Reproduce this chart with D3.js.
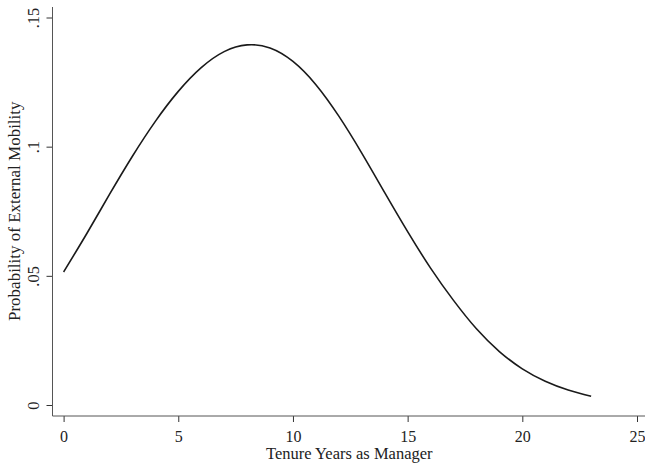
<!DOCTYPE html>
<html>
<head>
<meta charset="utf-8">
<script src="https://cdn.jsdelivr.net/npm/d3@7"></script>
<style>
    body { margin: 0; background: #fff; }
    text { font-family: "Liberation Serif", "Times New Roman", serif; fill: #222; }
</style>
</head>
<body>
<div id="chart"></div>
<script>
// tenure years and predicted probability
let tenureYears = [0, 1, 2, 3, 4, 5, 6, 7, 8, 9, 10, 11, 12, 13, 14, 15, 16, 17, 18, 19, 20, 21, 22, 23];
let probValues = [0.0515, 0.0662, 0.0815, 0.0963, 0.1098, 0.1214, 0.1306, 0.1368, 0.1394, 0.1382, 0.1330, 0.1240,
    0.1118, 0.0975, 0.0822, 0.0671, 0.0530, 0.0405, 0.0295, 0.0207, 0.0140, 0.0092, 0.0058, 0.0034];
let xTicks = [0, 5, 10, 15, 20, 25];
let yTicks = [0, 0.05, 0.1, 0.15];
let yTickLabels = ["0", ".05", ".1", ".15"];

let width = 645, height = 463;

let svg = d3.select("#chart").append("svg")
    .attr("width", width)
    .attr("height", height);

// scales
let x = d3.scaleLinear().domain([0, 25]).range([63.6, 637]);
let y = d3.scaleLinear().domain([0, 0.15]).range([405, 17.5]);

let axisX = 52.5, axisY = 416;

// axes
let xAxis = d3.axisBottom(x).tickValues(xTicks).tickSize(6).tickSizeOuter(0);
let yAxis = d3.axisLeft(y).tickValues(yTicks).tickSize(6).tickSizeOuter(0)
    .tickFormat((d, i) => yTickLabels[i]);

let gx = svg.append("g")
    .attr("transform", "translate(0," + axisY + ")")
    .call(xAxis);
gx.select(".domain").remove();
gx.append("line")
    .attr("x1", axisX).attr("x2", width)
    .attr("stroke", "#555");
gx.selectAll(".tick line").attr("stroke", "#333");
gx.selectAll(".tick text")
    .attr("font-size", "16px")
    .attr("fill", "#222")
    .attr("y", 0)
    .attr("dy", null)
    .attr("transform", "translate(0,25.5)");

let gy = svg.append("g")
    .attr("transform", "translate(" + axisX + ",0)")
    .call(yAxis);
gy.select(".domain").remove();
gy.append("line")
    .attr("y1", 7).attr("y2", axisY)
    .attr("stroke", "#555");
gy.selectAll(".tick line").attr("stroke", "#333");
gy.selectAll(".tick text")
    .attr("font-size", "16.5px")
    .attr("fill", "#222")
    .attr("x", 0)
    .attr("dy", null)
    .attr("text-anchor", "middle")
    .attr("transform", "translate(-13.5,0) rotate(-90)");

// axis titles
svg.append("text")
    .attr("x", (x(0) + x(25)) / 2 - 1)
    .attr("y", 459)
    .attr("text-anchor", "middle")
    .attr("font-size", "16.5px")
    .text("Tenure Years as Manager");

svg.append("text")
    .attr("transform", "translate(19.5," + (y(0) + y(0.15)) / 2 + ") rotate(-90)")
    .attr("text-anchor", "middle")
    .attr("font-size", "17px")
    .text("Probability of External Mobility");

// the curve
let line = d3.line()
    .x((d, i) => x(tenureYears[i]))
    .y(d => y(d))
    .curve(d3.curveNatural);

svg.append("path")
    .datum(probValues)
    .attr("d", line)
    .attr("fill", "none")
    .attr("stroke", "#1a1a1a")
    .attr("stroke-width", 1.6);
</script>
</body>
</html>
